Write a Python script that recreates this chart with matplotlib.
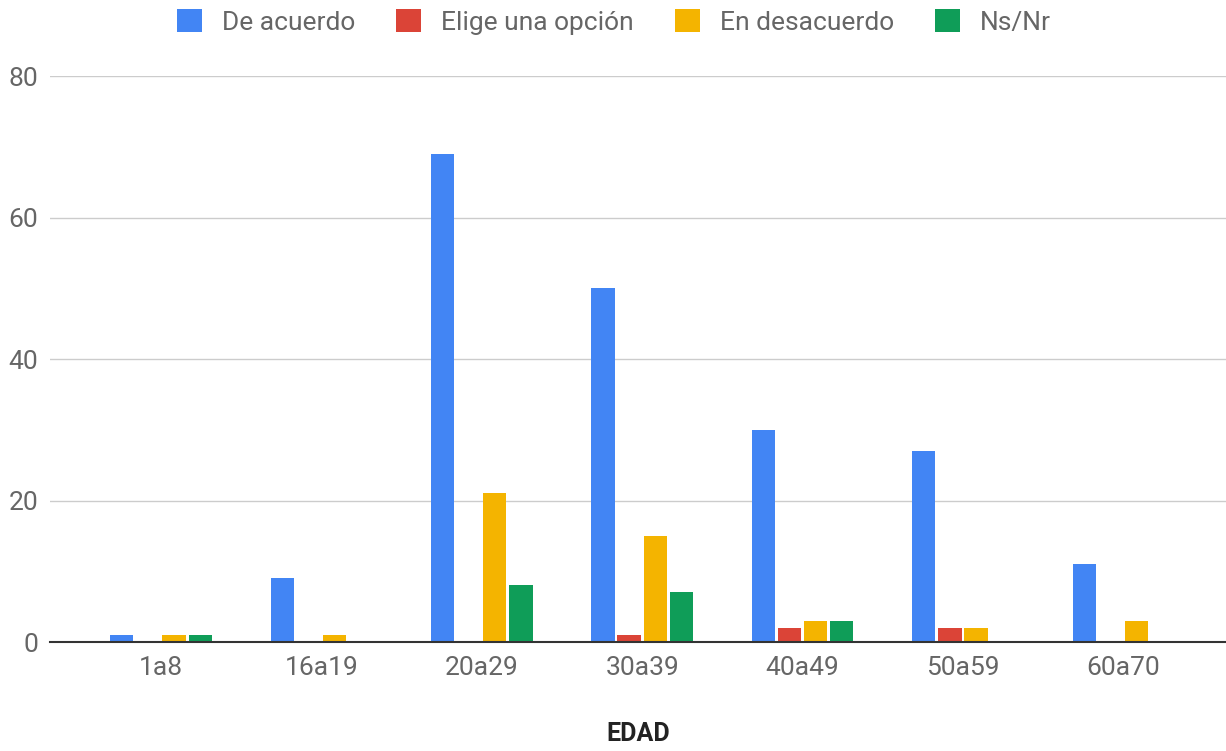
import matplotlib

matplotlib.use("Agg")
import matplotlib.pyplot as plt
import numpy as np

plt.rcParams["font.family"] = ["Roboto", "DejaVu Sans"]

CATEGORIES = ["1a8", "16a19", "20a29", "30a39", "40a49", "50a59", "60a70"]
SERIES = ["De acuerdo", "Elige una opción", "En desacuerdo", "Ns/Nr"]
DE_ACUERDO = [1, 9, 69, 50, 30, 27, 11]
ELIGE = [0, 0, 0, 1, 2, 2, 0]
DESACUERDO = [1, 1, 21, 15, 3, 2, 3]
NSNR = [1, 0, 8, 7, 3, 0, 0]
COLORS = ["#4285F4", "#DB4437", "#F4B400", "#0F9D58"]
YTICKS = [0, 20, 40, 60, 80]

W, H = 1226, 751
fig = plt.figure(figsize=(W / 100, H / 100), dpi=100)
ax = fig.add_axes([50 / W, 1 - 642 / H, 1176 / W, 566 / H])

x = np.arange(len(CATEGORIES))
step = 0.163
width = 0.145
for i, (vals, name, col) in enumerate(zip([DE_ACUERDO, ELIGE, DESACUERDO, NSNR], SERIES, COLORS)):
    ax.bar(x + (i - 1.5) * step, vals, width=width, color=col, label=name, zorder=3)

ax.set_xlim(-0.692, 6.64)
ax.set_ylim(0, 80)
ax.set_yticks(YTICKS)
ax.set_xticks(x)
ax.set_xticklabels(CATEGORIES)
ax.tick_params(axis="both", length=0, labelsize=19, colors="#666666")
ax.tick_params(axis="x", pad=10)
ax.tick_params(axis="y", pad=8.5)
ax.grid(axis="y", color="#cccccc", linewidth=1, zorder=0)
for s in ["top", "right", "left"]:
    ax.spines[s].set_visible(False)
ax.spines["bottom"].set_color("#333333")
ax.spines["bottom"].set_linewidth(1.5)
ax.spines["bottom"].set_zorder(4)

ax.set_xlabel("EDAD", fontsize=18, fontweight="bold", color="#222222", va="center")
ax.xaxis.set_label_coords(0.5, -(734 - 642) / 566)

ax.legend(loc="center", bbox_to_anchor=(614 / W, 1 - 22 / H), bbox_transform=fig.transFigure,
          ncol=4, frameon=False, fontsize=19, handlelength=0.95, handleheight=0.95,
          columnspacing=1.55, handletextpad=0.76, labelcolor="#666666")

fig.savefig("out.png", dpi=100)
